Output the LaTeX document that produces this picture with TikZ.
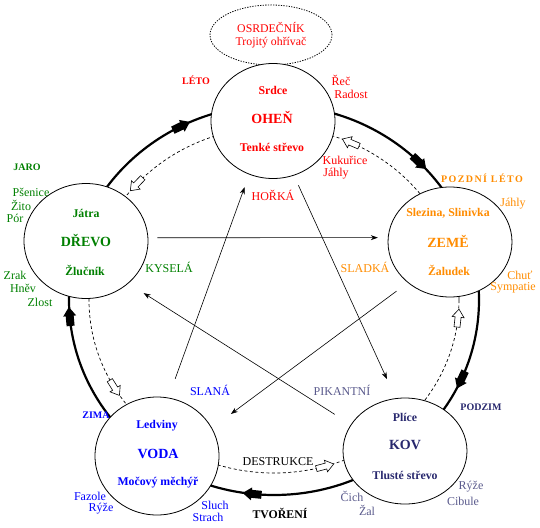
\documentclass[tikz,border=0pt]{standalone}
\usepackage{fontspec}
\setmainfont{Liberation Serif}
\usetikzlibrary{shapes.geometric, arrows.meta}
\definecolor{cred}{RGB}{255,0,0}
\definecolor{cgreen}{RGB}{0,128,0}
\definecolor{corange}{RGB}{255,140,0}
\definecolor{cblue}{RGB}{0,0,255}
\definecolor{cnavy}{RGB}{40,40,110}
\definecolor{cslate}{RGB}{90,90,140}
\newcommand{\fsz}[1]{\fontsize{#1}{#1}\selectfont}
\begin{document}
\begin{tikzpicture}[x=1pt,y=-1pt,
  elem/.style={ellipse, draw, line width=0.8pt, fill=white, minimum width=124pt, minimum height=115pt, inner sep=0pt},
  osr/.style={ellipse, draw, line width=0.8pt, dash pattern=on 1.3pt off 1.3pt, minimum width=122pt, minimum height=60pt, inner sep=0pt, text=cred, align=center, font=\fontsize{11.8}{13.5}\selectfont},
  txt/.style={inner sep=0pt, font=\fsz{12}},
  btxt/.style={inner sep=0pt, font=\fsz{11.8}\bfseries},
  big/.style={inner sep=0pt, font=\fsz{14}\bfseries},
  season/.style={inner sep=0pt, font=\fsz{10}\bfseries},
  star/.style={line width=0.6pt, -{Stealth[length=7pt,width=5pt]}},
  blkarrow/.pic={\fill[black] (-9,-4) -- (1,-4) -- (1,-6.5) -- (10,0) -- (1,6.5) -- (1,4) -- (-9,4) -- cycle;},
  holarrow/.pic={\draw[fill=white, line width=0.6pt] (-9,-3) -- (1,-3) -- (1,-6) -- (9,0) -- (1,6) -- (1,3) -- (-9,3) -- cycle;}
]
\useasboundingbox (0,0) rectangle (540,527);
\coordinate (C) at (274,300);
% cycles
\draw[line width=2.2pt] (C) ellipse [x radius=205, y radius=195];
\draw[line width=0.7pt, dash pattern=on 3pt off 2.5pt] (C) ellipse [x radius=185, y radius=173];

% elements
\node[osr] (osr) at (271,35) {OSRDEČNÍK\\Trojitý ohřívač};
\node[elem] (ohen) at (273,121) {};
\node[elem] (drevo) at (86,241) {};
\node[elem, minimum height=110pt] (zeme) at (450,242) {};
\node[elem, minimum height=118pt] (voda) at (157,456) {};
\node[elem, minimum height=106pt] (kov) at (405,451) {};

% cycle arrows
\foreach \t in {243,315,24,96,175}
  \pic[rotate={atan2(-195*cos(\t),-205*sin(\t))}] at ({274+205*cos(\t)},{300+195*sin(\t)}) {blkarrow};
\foreach \t in {222,294.5,6,74,149.5}
  \pic[rotate={atan2(173*cos(\t),185*sin(\t))}] at ({274+185*cos(\t)},{300+173*sin(\t)}) {holarrow};

% star lines
\draw[star, shorten <=9pt, shorten >=10pt] (drevo.3) -- (zeme.176);
\draw[star, shorten <=20pt, shorten >=13.5pt] (voda.79) -- (ohen.246);
\draw[star, shorten <=10.7pt, shorten >=21pt] (ohen.291) -- (kov.100);
\draw[star, shorten <=14pt, shorten >=23.5pt] (zeme.224) -- (voda.27);
\draw[star, shorten <=19pt, shorten >=18pt] (kov.154) -- (drevo.315);

% OHEŇ texts
\node[btxt, text=cred] (srdce) at (273,90) {Srdce};
\node[big, text=cred] (ohent) at (272,117) {OHEŇ};
\node[btxt, text=cred] (tenke) at (272,147) {Tenké střevo};
\node[season, text=cred] (leto) at (196,80) {LÉTO};
\node[txt, text=cred] (rec) at (341,80) {Řeč};
\node[txt, text=cred] (radost) at (351,94) {Radost};
\node[txt, text=cred] (kukurice) at (345,160) {Kukuřice};
\node[txt, text=cred] (jahly1) at (336,174) {Jáhly};
\node[txt, text=cred] (horka) at (273,195) {HOŘKÁ};

% DŘEVO texts
\node[btxt, text=cgreen] (jatra) at (86,213) {Játra};
\node[big, text=cgreen] (drevot) at (86,241) {DŘEVO};
\node[btxt, text=cgreen] (zlucnik) at (85,270) {Žlučník};
\node[season, text=cgreen] (jaro) at (27,167) {JARO};
\node[txt, text=cgreen] (psenice) at (31,192) {Pšenice};
\node[txt, text=cgreen] (zito) at (21,205) {Žito};
\node[txt, text=cgreen] (por) at (15,218) {Pór};
\node[txt, text=cgreen] (zrak) at (15,275) {Zrak};
\node[txt, text=cgreen] (hnev) at (23,288) {Hněv};
\node[txt, text=cgreen] (zlost) at (40,302) {Zlost};
\node[txt, text=cgreen] (kysela) at (169,267) {KYSELÁ};

% ZEMĚ texts
\node[btxt, text=corange] (slezina) at (448,213) {Slezina, Slinivka};
\node[big, text=corange] (zemet) at (448,241) {ZEMĚ};
\node[btxt, text=corange] (zaludek) at (449,270) {Žaludek};
\node[season, text=corange, font=\fsz{10}\bfseries\addfontfeatures{LetterSpace=14}] (pozdni) at (482,178) {POZDNÍ LÉTO};
\node[txt, text=corange] (jahly2) at (513,204) {Jáhly};
\node[txt, text=corange] (chut) at (520,275) {Chuť};
\node[txt, text=corange] (sympatie) at (513,288) {Sympatie};
\node[txt, text=corange] (sladka) at (365,267) {SLADKÁ};

% VODA texts
\node[btxt, text=cblue] (ledviny) at (157,426) {Ledviny};
\node[big, text=cblue] (vodat) at (158,454) {VODA};
\node[btxt, text=cblue] (mocovy) at (158,483) {Močový měchýř};
\node[season, text=cblue] (zima) at (96,415) {ZIMA};
\node[txt, text=cblue] (fazole) at (90,496) {Fazole};
\node[txt, text=cblue] (ryze1) at (101,509) {Rýže};
\node[txt, text=cblue] (sluch) at (215,505) {Sluch};
\node[txt, text=cblue] (strach) at (208,517) {Strach};
\node[txt, text=cblue] (slana) at (210,390) {SLANÁ};

% KOV texts
\node[btxt, text=cnavy] (plice) at (405,417) {Plíce};
\node[big, text=cnavy] (kovt) at (405,445) {KOV};
\node[btxt, text=cnavy] (tluste) at (405,475) {Tlusté střevo};
\node[season, text=cnavy] (podzim) at (481,407) {PODZIM};
\node[txt, text=cslate] (ryze2) at (471,487) {Rýže};
\node[txt, text=cslate] (cibule) at (463,501) {Cibule};
\node[txt, text=cslate] (cich) at (352,496) {Čich};
\node[txt, text=cslate] (zal) at (367,510) {Žal};
\node[txt, text=cslate] (pikantni) at (342,390) {PIKANTNÍ};

% cycle labels
\node[txt] (destrukce) at (278,462) {DESTRUKCE};
\node[btxt] (tvoreni) at (280,513) {TVOŘENÍ};
\end{tikzpicture}
\end{document}
